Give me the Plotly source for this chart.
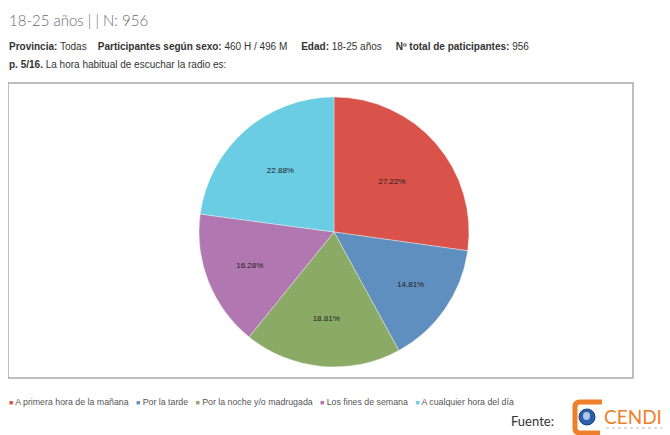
import plotly.graph_objects as go

# Page body has an 8px margin: shrink the figure and shift reference coordinates.
OX, OY = 8, 8
W, H = 670 - OX, 435 - OY

categories = ["A primera hora de la mañana", "Por la tarde", "Por la noche y/o madrugada",
              "Los fines de semana", "A cualquier hora del día"]
values = [27.22, 14.81, 18.81, 16.28, 22.88]
colors = ["#D9534A", "#5F8FBF", "#8BAA66", "#B077B0", "#6ACDE3"]

title_text = "18-25 años | | N: 956"
subtitle_text = ("<b>Provincia:</b> Todas    <b>Participantes según sexo:</b> 460 H / 496 M     "
                 "<b>Edad:</b> 18-25 años     <b>Nº total de paticipantes:</b> 956")
question_text = "<b>p. 5/16.</b> La hora habitual de escuchar la radio es:"


def px(x):
    return (x - OX) / W


def py(y):
    return 1 - (y - OY) / H


cx, cy, r = 334, 232, 135

fig = go.Figure(go.Pie(
    labels=categories,
    values=values,
    text=[f"{v:.2f}%" for v in values],
    textinfo="text",
    textposition="inside",
    insidetextorientation="horizontal",
    textfont=dict(family="Liberation Sans, Arial", size=8, color="#222"),
    marker=dict(colors=colors, line=dict(color="rgba(255,255,255,0.6)", width=0.6)),
    sort=False,
    direction="clockwise",
    rotation=0,
    hoverinfo="label+percent",
    showlegend=False,
    domain=dict(x=[px(cx - r), px(cx + r)], y=[py(cy + r), py(cy - r)]),
))

shapes = [
    dict(type="rect", xref="paper", yref="paper",
         x0=px(8), x1=px(633), y0=py(378), y1=py(83),
         line=dict(color="#AAAAAA", width=1.5), fillcolor="rgba(0,0,0,0)", layer="below"),
    # logo: orange open frame
    dict(type="path", xref="paper", yref="paper",
         path=(f"M {px(602)},{py(402)} L {px(580)},{py(402)} Q {px(575)},{py(402)} {px(575)},{py(407)} "
               f"L {px(575)},{py(428)} Q {px(575)},{py(433)} {px(580)},{py(433)} L {px(600)},{py(433)}"),
         line=dict(color="#F07F2A", width=5), fillcolor="rgba(0,0,0,0)"),
    dict(type="circle", xref="paper", yref="paper",
         x0=px(579), x1=px(595), y0=py(425), y1=py(409),
         line=dict(color="#1E3F7A", width=1), fillcolor="#2E5FA8"),
    dict(type="circle", xref="paper", yref="paper",
         x0=px(583), x1=px(590), y0=py(420), y1=py(412),
         line=dict(width=0), fillcolor="#AFC8EA"),
    dict(type="line", xref="paper", yref="paper",
         x0=px(606), x1=px(666), y0=py(428), y1=py(428),
         line=dict(color="#BBBBBB", width=1, dash="dot")),
]

annotations = [
    dict(text=title_text, x=px(7), y=py(20), xref="paper", yref="paper",
         xanchor="left", yanchor="middle", showarrow=False,
         font=dict(family="Lato, Open Sans", size=15, color="#6A6A6A", weight=300)),
    dict(text=subtitle_text, x=px(7), y=py(47), xref="paper", yref="paper",
         xanchor="left", yanchor="middle", showarrow=False,
         font=dict(family="Liberation Sans, Arial", size=10, color="#333")),
    dict(text=question_text, x=px(7), y=py(64), xref="paper", yref="paper",
         xanchor="left", yanchor="middle", showarrow=False,
         font=dict(family="Liberation Sans, Arial", size=10, color="#333")),
    dict(text="Fuente:", x=px(556), y=py(421), xref="paper", yref="paper",
         xanchor="right", yanchor="middle", showarrow=False,
         font=dict(family="Lato, Open Sans", size=13, color="#333")),
    dict(text="CENDI", x=px(602), y=py(416), xref="paper", yref="paper",
         xanchor="left", yanchor="middle", showarrow=False,
         font=dict(family="Lato, Open Sans", size=19, color="#F07F2A")),
]

# compact custom legend (tiny squares like the reference)
legend_items = []
for lab, col in zip(categories, colors):
    legend_items.append(f'<span style="color:{col};font-size:7px">■</span> {lab}')
annotations.append(dict(
    text="   ".join(legend_items), x=px(7), y=py(402), xref="paper", yref="paper",
    xanchor="left", yanchor="middle", showarrow=False,
    font=dict(family="Liberation Sans, Arial", size=8.8, color="#555")))

fig.update_layout(
    width=W, height=H,
    margin=dict(l=0, r=0, t=0, b=0),
    paper_bgcolor="white",
    plot_bgcolor="white",
    showlegend=False,
    shapes=shapes,
    annotations=annotations,
)

fig.write_html("out.html")
